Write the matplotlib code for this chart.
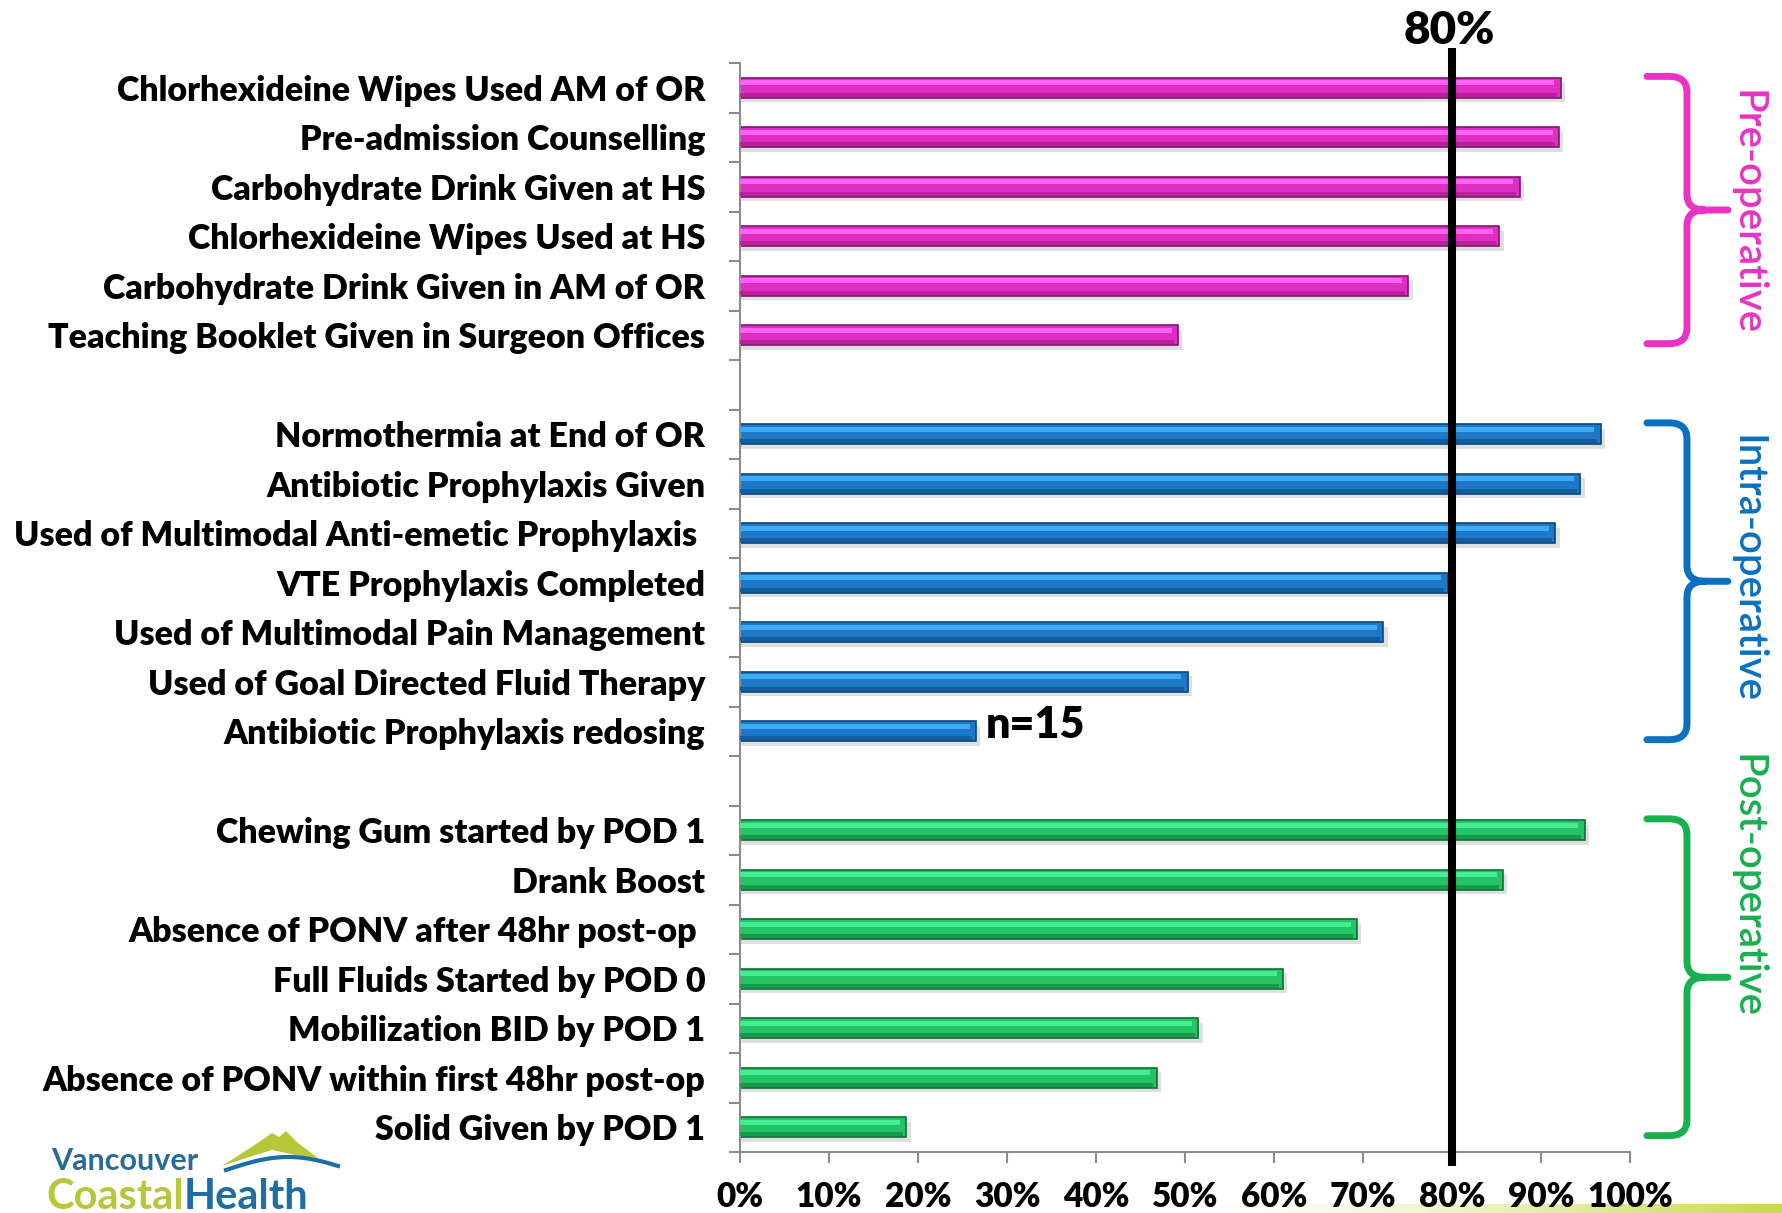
#ERAS compliance chart - horizontal bars by phase with 80% target line

import numpy as np
import matplotlib.pyplot as plt
from matplotlib.path import Path
from matplotlib.patches import PathPatch, Polygon
from matplotlib.colors import LinearSegmentedColormap

plt.rcParams['font.family'] = ['Lato', 'DejaVu Sans']

#data (percent compliance)
pre_labels = ["Chlorhexideine Wipes Used AM of OR",
              "Pre-admission Counselling",
              "Carbohydrate Drink Given at HS",
              "Chlorhexideine Wipes Used at HS",
              "Carbohydrate Drink Given in AM of OR",
              "Teaching Booklet Given in Surgeon Offices"]
pre_values = [92.2, 92.0, 87.6, 85.3, 75.1, 49.2]

intra_labels = ["Normothermia at End of OR",
                "Antibiotic Prophylaxis Given",
                "Used of Multimodal Anti-emetic Prophylaxis ",
                "VTE Prophylaxis Completed",
                "Used of Multimodal Pain Management",
                "Used of Goal Directed Fluid Therapy",
                "Antibiotic Prophylaxis redosing"]
intra_values = [96.7, 94.4, 91.6, 79.5, 72.3, 50.3, 26.5]

post_labels = ["Chewing Gum started by POD 1",
               "Drank Boost",
               "Absence of PONV after 48hr post-op ",
               "Full Fluids Started by POD 0",
               "Mobilization BID by POD 1",
               "Absence of PONV within first 48hr post-op",
               "Solid Given by POD 1"]
post_values = [94.9, 85.7, 69.3, 61.0, 51.5, 46.8, 18.7]

group_names = ["Pre-operative", "Intra-operative", "Post-operative"]
target = 80
x_ticks = [0, 10, 20, 30, 40, 50, 60, 70, 80, 90, 100]

#colours: main, highlight, dark band, edge, label colour
styles = [("#E02DC2", "#FF62F2", "#B8229F", "#82166F", "#E833C6"),
          ("#1E78C8", "#3FAAF5", "#135EA2", "#0B4678", "#0A70C0"),
          ("#22C463", "#45EC95", "#179A4C", "#0E6E36", "#19B04F")]
#how far each phase name sits from its brace middle (in rows)
name_shift = [0.05, -0.25, -1.85]

groups = [(pre_labels, pre_values), (intra_labels, intra_values), (post_labels, post_values)]

fig = plt.figure(figsize=(17.83, 12.13), dpi=100)
W, H = 1783, 1213
ax = fig.add_axes([740 / W, 1 - 1152 / H, 890 / W, (1152 - 63) / H])

bar_h = 0.4
all_pos = []
all_labels = []
slot = 0
spans = []
for (labels, values), (main, light, darkband, edge, txtc) in zip(groups, styles):
    pos = np.arange(len(labels)) + slot + 0.5
    vals = np.array(values)
    start = slot
    # soft shadow under each bar
    ax.barh(pos + 0.09, vals + 0.5, height=bar_h, color="#808080",
            alpha=0.25, zorder=1, linewidth=0)
    # body
    ax.barh(pos, vals, height=bar_h, color=main, edgecolor=edge, linewidth=1.2, zorder=2)
    # bright upper band and darker lower band for the bevel look
    ax.barh(pos - 0.1, vals - 0.7, height=0.1, color=light, linewidth=0, zorder=3)
    ax.barh(pos + 0.14, vals - 0.4, height=0.08, color=darkband, linewidth=0, zorder=3)
    all_pos += list(pos)
    all_labels += labels
    slot += len(labels)
    spans.append((start, slot, txtc))
    slot += 1  # empty slot between groups

n_slots = slot - 1
ax.set_xlim(0, 100)
ax.set_ylim(n_slots, 0)

ax.set_yticks(all_pos)
ax.set_yticklabels(all_labels, fontsize=24.5, fontweight="heavy")
ax.tick_params(axis="y", length=0, pad=25)
ax.set_yticks(np.arange(0, n_slots + 1), minor=True)
ax.tick_params(axis="y", which="minor", length=8, width=1.5, color="#8c8c8c")

ax.set_xticks(x_ticks)
ax.set_xticklabels([f"{t}%" for t in x_ticks], fontsize=24, fontweight="heavy")
ax.tick_params(axis="x", length=8, width=1.5, color="#8c8c8c", pad=13)

for s in ["top", "right"]:
    ax.spines[s].set_visible(False)
for s in ["left", "bottom"]:
    ax.spines[s].set_color("#8c8c8c")
    ax.spines[s].set_linewidth(1.5)

#80% target line, running past the plot area
ax.plot([target, target], [-0.3, n_slots + 0.28], color="black", lw=5.8,
        clip_on=False, zorder=5, solid_capstyle="butt")
ax.text(target - 0.3, -0.38, f"{target}%", fontsize=33, fontweight="heavy",
        ha="center", va="baseline")

#n note next to redosing bar
ax.text(27.6, all_pos[12] + 0.14, "n=15", fontsize=31, fontweight="heavy",
        ha="left", va="baseline")

#curly braces + phase labels
def brace(y0, y1, color):
    xa, xb, xc = 101.9, 106.4, 111.0
    ym = (y0 + y1) / 2
    rx, ry = 2.0, 0.32
    verts = [(xa, y0), (xb - rx, y0), (xb, y0), (xb, y0 + ry), (xb, ym - ry),
             (xb, ym), (xb + rx, ym), (xc, ym),
             (xb + rx, ym), (xb, ym), (xb, ym + ry), (xb, y1 - ry),
             (xb, y1), (xb - rx, y1), (xa, y1)]
    codes = [Path.MOVETO, Path.LINETO, Path.CURVE3, Path.CURVE3, Path.LINETO,
             Path.CURVE3, Path.CURVE3, Path.LINETO,
             Path.MOVETO, Path.CURVE3, Path.CURVE3, Path.LINETO,
             Path.CURVE3, Path.CURVE3, Path.LINETO]
    ax.add_patch(PathPatch(Path(verts, codes), fill=False, edgecolor=color, lw=5,
                           capstyle="round", joinstyle="round", clip_on=False))
    return ym

for (start, end, txtc), name, shift in zip(spans, group_names, name_shift):
    ym = brace(start + 0.27, end - 0.33, txtc)
    ax.text(113.2, ym + shift, name, rotation=-90, color=txtc, fontsize=29,
            fontweight=600, ha="center", va="center", clip_on=False)

#overlay axes in pixel units for logo and bottom strip
deco = fig.add_axes([0, 0, 1, 1], zorder=-1)
deco.set_xlim(0, W)
deco.set_ylim(H, 0)
deco.axis("off")

grad = np.linspace(0, 1, 256).reshape(1, -1) ** 1.5
cm = LinearSegmentedColormap.from_list("g", ["#ffffff", "#C9D94A"])
deco.imshow(grad, extent=[1180, W, 1213, 1204], aspect="auto", cmap=cm)

logo = fig.add_axes([0, 0, 1, 1], zorder=3)
logo.set_xlim(0, W)
logo.set_ylim(H, 0)
logo.axis("off")
logo.add_patch(Polygon([(222, 1166), (250, 1148), (262, 1140), (272, 1133), (279, 1137),
                        (286, 1131), (298, 1143), (318, 1158), (300, 1156), (272, 1150),
                        (246, 1158)], closed=True, color="#B4C83A", lw=0))
t = np.linspace(0, 1, 50)
logo.plot(226 + 112 * t, 1170 - 13 * np.sin(np.pi * t * 0.9), color="#1D6EA5", lw=3)
logo.text(51, 1170, "Vancouver", color="#2A6A96", fontsize=22, fontweight="bold", va="baseline")
coastal = logo.text(46, 1209, "Coastal", color="#B4C83A", fontsize=30, fontweight="bold",
                    va="baseline")
fig.canvas.draw()
bb = coastal.get_window_extent()
x_end = logo.transData.inverted().transform((bb.x1, bb.y0))[0]
logo.text(x_end, 1209, "Health", color="#1D6EA5", fontsize=30, fontweight="bold",
          va="baseline")

fig.savefig("out.png", dpi=100)
